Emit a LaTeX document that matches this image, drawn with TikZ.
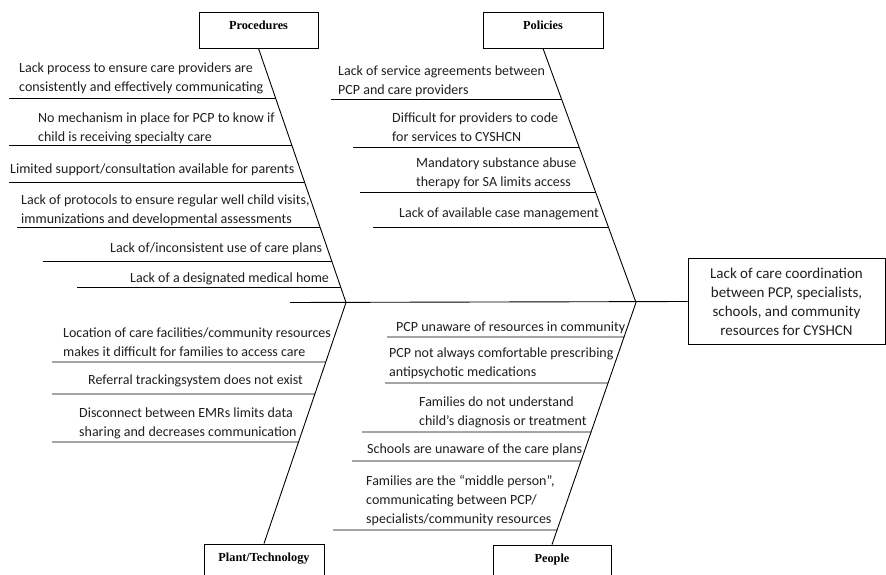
\documentclass[tikz,border=0pt]{standalone}
\usepackage{fontspec}
\setmainfont{Carlito}
\newfontfamily\labelfont{Liberation Serif}
\usetikzlibrary{calc}

\tikzset{
  line/.style={draw=black, line width=0.9pt},
  % base anchor of a multi-line cause sits on its last line
  cause/.style={anchor=base west, inner sep=0pt, align=left, text=black!88,
    font=\fontsize{14}{19}\selectfont},
  catbox/.style={draw=black, line width=0.9pt, fill=white, inner xsep=0pt, inner ysep=0pt,
    minimum width=#1, text height=17.5pt, text depth=18.5pt,
    font=\labelfont\bfseries\fontsize{12.3}{14}\selectfont},
  effectbox/.style={draw=black, line width=0.9pt, inner sep=0pt, minimum width=197pt,
    minimum height=86pt, align=center, text=black!88, font=\fontsize{15}{19}\selectfont}
}

% one cause line: name, left x, y, and the two ends of the bone it meets
\newcommand\causeline[5]{%
  \coordinate (#1L) at (#2,#3);
  \coordinate (#1F) at (900,#3);
  \draw[line] (#1L) -- (intersection of #4--#5 and #1L--#1F);
}

\begin{document}
\begin{tikzpicture}[x=1pt,y=-1pt]
\clip (0,0) rectangle (886,575);
\fill[white] (0,0) rectangle (886,575);

% category boxes and effect
\node[catbox=119pt] (proc) at (258.5,30) {Procedures};
\node[catbox=120pt] (pol)  at (543,30)   {Policies};
\node[catbox=120pt] (tech) at (264,562)  {Plant/Technology};
\node[catbox=118pt] (ppl)  at (552,563)  {People};
\node[effectbox] (effect) at (786.5,301.5)
  {Lack of care coordination\\between PCP, specialists,\\schools, and community\\resources for CYSHCN};

% spine and bones
\coordinate (tail) at (290,302.5);
\coordinate (J1) at (346,302.5);
\coordinate (J2) at (636,302.5);
\draw[line] (tail) -- (effect.west);
\draw[line] (proc.south) -- (J1);
\draw[line] (tech.north) -- (J1);
\draw[line] (pol.south) -- (J2);
\draw[line] (ppl.north) -- (J2);

% Procedures
\causeline{p1}{9}{98.5}{proc.south}{J1}
\causeline{p2}{9}{145.5}{proc.south}{J1}
\causeline{p3}{9}{182}{proc.south}{J1}
\causeline{p4}{17}{227}{proc.south}{J1}
\causeline{p5}{43}{261}{proc.south}{J1}
\causeline{p6}{77}{287}{proc.south}{J1}
\node[cause] (tp1) at (19,91.5) {Lack process to ensure care providers are\\consistently and effectively communicating};
\node[cause] (tp2) at (38,141.5) {No mechanism in place for PCP to know if\\child is receiving specialty care};
\node[cause] (tp3) at (10,173.5) {Limited support/consultation available for parents};
\node[cause] (tp4) at (21,223) {Lack of protocols to ensure regular well child visits,\\immunizations and developmental assessments};
\node[cause] (tp5) at (110,252.5) {Lack of/inconsistent use of care plans};
\node[cause] (tp6) at (130,282.5) {Lack of a designated medical home};

% Policies
\causeline{q1}{331}{99}{pol.south}{J2}
\causeline{q2}{353}{147}{pol.south}{J2}
\causeline{q3}{360}{192}{pol.south}{J2}
\causeline{q4}{373}{227}{pol.south}{J2}
\node[cause] (tq1) at (338,95) {Lack of service agreements between\\PCP and care providers};
\node[cause] (tq2) at (392,141.5) {Difficult for providers to code\\for services to CYSHCN};
\node[cause] (tq3) at (416,186.5) {Mandatory substance abuse\\therapy for SA limits access};
\node[cause] (tq4) at (399,217.5) {Lack of available case management};

% Plant/Technology
\causeline{t1}{52}{362}{tech.north}{J1}
\causeline{t2}{52}{394}{tech.north}{J1}
\causeline{t3}{52}{442}{tech.north}{J1}
\node[cause] (tt1) at (63,356.5) {Location of care facilities/community resources\\makes it difficult for families to access care};
\node[cause] (tt2) at (88,384.5) {Referral trackingsystem does not exist};
\node[cause] (tt3) at (79,436.5) {Disconnect between EMRs limits data\\sharing and decreases communication};

% People
\causeline{r1}{387}{337}{ppl.north}{J2}
\causeline{r2}{385}{383}{ppl.north}{J2}
\causeline{r3}{362}{432}{ppl.north}{J2}
\causeline{r4}{352}{461}{ppl.north}{J2}
\causeline{r5}{333}{530}{ppl.north}{J2}
\node[cause] (tr1) at (396,331.5) {PCP unaware of resources in community};
\node[cause] (tr2) at (389,376.5) {PCP not always comfortable prescribing\\antipsychotic medications};
\node[cause] (tr3) at (419,425) {Families do not understand\\child’s diagnosis or treatment};
\node[cause] (tr4) at (367,453.5) {Schools are unaware of the care plans};
\node[cause] (tr5) at (366,523.5) {Families are the “middle person”,\\communicating between PCP/\\specialists/community resources};
\end{tikzpicture}
\end{document}
